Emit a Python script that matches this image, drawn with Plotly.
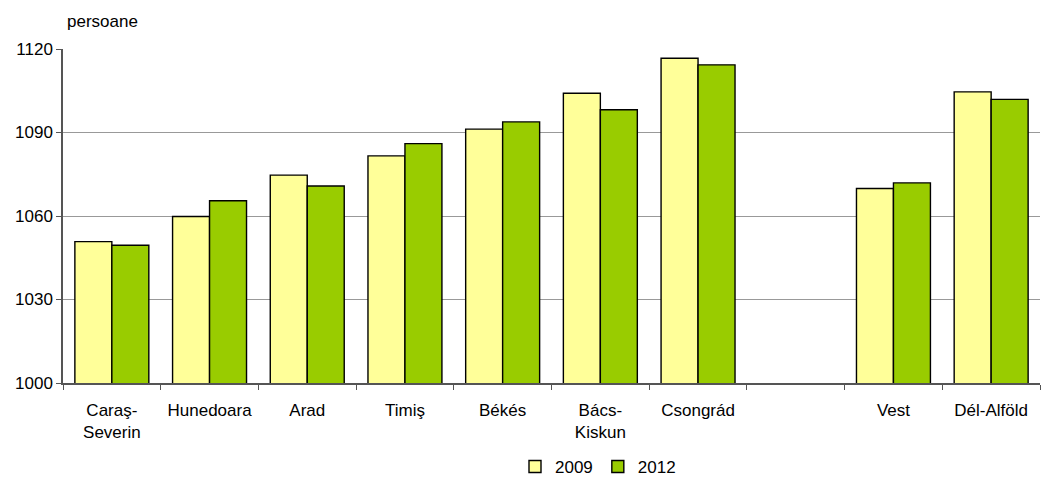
import plotly.graph_objects as go

categories = ["Caraş-<br>Severin", "Hunedoara", "Arad", "Timiş", "Békés",
              "Bács-<br>Kiskun", "Csongrád", " ", "Vest", "Dél-Alföld"]
values_2009 = [1050.8, 1059.8, 1074.7, 1081.6, 1091.2, 1104.1, 1116.7, None, 1069.9, 1104.6]
values_2012 = [1049.5, 1065.5, 1070.8, 1086.0, 1093.8, 1098.2, 1114.3, None, 1071.9, 1101.9]
y_ticks = [1000, 1030, 1060, 1090, 1120]

font = "Liberation Sans, Arial, sans-serif"

fig = go.Figure()
fig.add_trace(go.Bar(name="2009", x=categories, y=values_2009,
                     marker=dict(color="#FFFF99", line=dict(color="#000000", width=1.4))))
fig.add_trace(go.Bar(name="2012", x=categories, y=values_2012,
                     marker=dict(color="#99CC00", line=dict(color="#000000", width=1.4))))

fig.update_layout(
    width=1043, height=485,
    margin=dict(l=63, r=3, t=49, b=102),
    paper_bgcolor="white", plot_bgcolor="white",
    barmode="group", bargap=0.243, bargroupgap=0,
    font=dict(family=font, size=17, color="#000000"),
    showlegend=True,
    legend=dict(orientation="h", xref="container", yref="container",
                x=515 / 1043, xanchor="left", y=0, yanchor="bottom",
                font=dict(size=17), itemwidth=30, traceorder="normal",
                bgcolor="rgba(0,0,0,0)"),
    xaxis=dict(type="category", tickson="boundaries", ticks="outside", ticklen=5,
               tickcolor="#555555", showline=True, linecolor="#555555", linewidth=1.5,
               showgrid=False, tickfont=dict(size=17), automargin=False,
               ticklabelstandoff=11),
    yaxis=dict(range=[1000, 1120], tickvals=y_ticks, ticks="outside", ticklen=5,
               tickcolor="#555555", showline=True, linecolor="#555555", linewidth=1.5,
               showgrid=True, gridcolor="#999999", gridwidth=1, zeroline=False,
               tickfont=dict(size=17), automargin=False),
    annotations=[dict(text="persoane", xref="paper", yref="paper", x=0.002, y=1,
                      xanchor="left", yanchor="bottom", yshift=16, showarrow=False,
                      font=dict(size=17))],
)

fig.write_html("out.html", config={"displayModeBar": False},
               post_script="document.body.style.margin='0';document.body.style.overflow='hidden';")
